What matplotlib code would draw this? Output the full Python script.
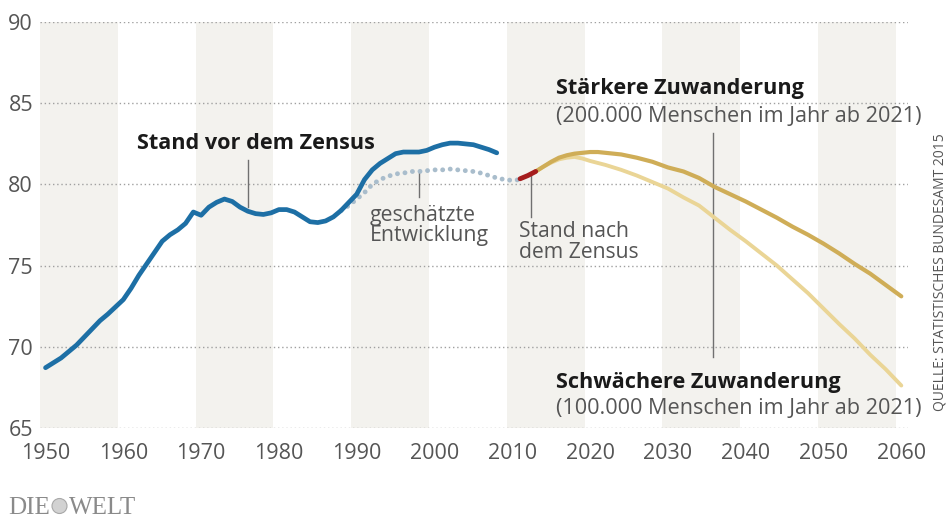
import numpy as np
import matplotlib
matplotlib.use("Agg")
import matplotlib.pyplot as plt
from matplotlib.patches import Ellipse

plt.rcParams['font.family'] = ['Open Sans', 'DejaVu Sans']

# Bevoelkerung in Mio.
years_before = [1950, 1951, 1952, 1953, 1954, 1955, 1956, 1957, 1958, 1959,
                1960, 1961, 1962, 1963, 1964, 1965, 1966, 1967, 1968, 1969,
                1970, 1971, 1972, 1973, 1974, 1975, 1976, 1977, 1978, 1979,
                1980, 1981, 1982, 1983, 1984, 1985, 1986, 1987, 1988, 1989,
                1990, 1991, 1992, 1993, 1994, 1995, 1996, 1997, 1998, 1999,
                2000, 2001, 2002, 2003, 2004, 2005, 2006, 2007, 2008]
pop_before = [68.7, 69.0, 69.3, 69.7, 70.1, 70.6, 71.1, 71.6, 72.0, 72.45,
              72.9, 73.6, 74.4, 75.1, 75.8, 76.5, 76.9, 77.2, 77.6, 78.3,
              78.1, 78.6, 78.9, 79.1, 78.95, 78.6, 78.35, 78.2, 78.15, 78.25,
              78.45, 78.45, 78.3, 78.0, 77.7, 77.65, 77.75, 78.0, 78.4, 78.9,
              79.4, 80.3, 80.9, 81.3, 81.6, 81.9, 82.0, 82.0, 82.0, 82.1,
              82.3, 82.45, 82.55, 82.55, 82.5, 82.45, 82.3, 82.15, 81.95]

years_est = [1988, 1989, 1990, 1991, 1992, 1993, 1994, 1995, 1996, 1997, 1998,
             1999, 2000, 2001, 2002, 2003, 2004, 2005, 2006, 2007, 2008, 2009,
             2010, 2011]
pop_est = [78.4, 78.7, 79.1, 79.5, 80.0, 80.3, 80.5, 80.65, 80.7, 80.8, 80.8,
           80.85, 80.9, 80.9, 80.95, 80.9, 80.85, 80.8, 80.7, 80.55, 80.4, 80.3,
           80.25, 80.3]

years_after = [2011, 2012, 2013]
pop_after = [80.35, 80.55, 80.8]

years_high = [2013, 2014, 2015, 2016, 2017, 2018, 2019, 2020, 2021, 2022, 2024,
              2026, 2028, 2030, 2032, 2034, 2036, 2038, 2040, 2042, 2044, 2046,
              2048, 2050, 2052, 2054, 2056, 2058, 2060]
pop_high = [80.8, 81.1, 81.4, 81.65, 81.8, 81.9, 81.95, 82.0, 82.0, 81.95, 81.85,
            81.65, 81.4, 81.05, 80.8, 80.4, 79.85, 79.4, 78.95, 78.45, 77.95, 77.4,
            76.9, 76.35, 75.75, 75.1, 74.5, 73.8, 73.1]

years_low = [2013, 2014, 2015, 2016, 2017, 2018, 2019, 2020, 2022, 2024, 2026,
             2028, 2030, 2032, 2034, 2036, 2038, 2040, 2042, 2044, 2046, 2048,
             2050, 2052, 2054, 2056, 2058, 2060]
pop_low = [80.8, 81.1, 81.35, 81.55, 81.65, 81.7, 81.6, 81.45, 81.2, 80.9, 80.55,
           80.15, 79.75, 79.2, 78.7, 77.95, 77.2, 76.5, 75.75, 75.0, 74.15, 73.3,
           72.35, 71.4, 70.5, 69.5, 68.6, 67.6]

band_starts = [1950, 1970, 1990, 2010, 2030, 2050]
xticks = [1950, 1960, 1970, 1980, 1990, 2000, 2010, 2020, 2030, 2040, 2050, 2060]
yticks = [65, 70, 75, 80, 85, 90]

W, H = 949, 518
fig = plt.figure(figsize=(W / 100, H / 100), dpi=100)
ax = fig.add_axes([40 / W, (H - 427.7) / H, 868 / W, 405.4 / H])
ax.set_xlim(1949.29, 2060.86)
ax.set_ylim(65, 90)

for s in band_starts:
    ax.axvspan(s - 0.7, s + 9.3, color='#f3f2ee', lw=0, zorder=0)
for v in yticks:
    ax.axhline(v, color='#a0a0a0', lw=1, ls=(0, (1, 2)), zorder=1)

ax.plot(years_before, pop_before, color='#1d6fa5', lw=3.4,
        solid_capstyle='round', solid_joinstyle='round', zorder=4)
ax.plot(years_est, pop_est, color='#a9bdcc', lw=3.5,
        ls=(0, (0.01, 1.55)), dash_capstyle='round', zorder=3)
ax.plot(years_low, pop_low, color='#ead596', lw=2.8,
        solid_capstyle='round', zorder=3)
ax.plot(years_high, pop_high, color='#cfad57', lw=3.0,
        solid_capstyle='round', zorder=3)
ax.plot(years_after, pop_after, color='#a51d1d', lw=3.5,
        solid_capstyle='round', zorder=5)

for sp in ax.spines.values():
    sp.set_visible(False)
ax.set_xticks(xticks)
ax.set_yticks(yticks)
ax.tick_params(length=0, labelsize=15.5, labelcolor='#555555')
ax.tick_params(axis='x', pad=11)
ax.tick_params(axis='y', pad=5)

# Beschriftungen und Hinweislinien
lc = '#707070'
ax.plot([1976.0, 1976.0], [81.5, 78.6], color=lc, lw=1, zorder=2)
ax.plot([1998.0, 1998.0], [80.77, 79.2], color=lc, lw=1, zorder=2)
ax.plot([2012.4, 2012.4], [80.6, 78.0], color=lc, lw=1, zorder=2)
ax.plot([2035.8, 2035.8], [83.17, 69.34], color=lc, lw=1, zorder=2)

ax.text(1961.76, 82.55, 'Stand vor dem Zensus', fontsize=15.6, fontweight='bold',
        color='#1a1a1a', ha='left', va='center')
ax.text(1991.7, 78.72, 'geschätzte\nEntwicklung', fontsize=15.3, color='#555555',
        ha='left', va='top', linespacing=0.95)
ax.text(2010.86, 77.75, 'Stand nach\ndem Zensus', fontsize=15.2, color='#555555',
        ha='left', va='top', linespacing=1.0)
ax.text(2015.6, 85.94, 'Stärkere Zuwanderung', fontsize=15.6, fontweight='bold',
        color='#1a1a1a', ha='left', va='center')
ax.text(2015.6, 84.2, '(200.000 Menschen im Jahr ab 2021)', fontsize=15.6,
        color='#555555', ha='left', va='center')
ax.text(2015.6, 67.8, 'Schwächere Zuwanderung', fontsize=15.6, fontweight='bold',
        color='#1a1a1a', ha='left', va='center')
ax.text(2015.6, 66.2, '(100.000 Menschen im Jahr ab 2021)', fontsize=15.6,
        color='#555555', ha='left', va='center')

fig.text(940 / W, 1 - 272 / H, 'QUELLE: STATISTISCHES BUNDESAMT 2015',
         rotation=90, ha='center', va='center', fontsize=10, color='#555555')

# Logo
fig.text(8 / W, 4 / H, 'DIE', family='Liberation Serif', fontsize=18,
         color='#8a8a8a', ha='left', va='baseline')
fig.text(69 / W, 4 / H, 'WELT', family='Liberation Serif', fontsize=18,
         color='#8a8a8a', ha='left', va='baseline')
fig.patches.append(Ellipse((59.5 / W, 12 / H), 15 / W, 15 / H,
                           transform=fig.transFigure, facecolor='#d2d2d2',
                           edgecolor='#a8a8a8', lw=0.8))

fig.savefig('out.png', dpi=100)
